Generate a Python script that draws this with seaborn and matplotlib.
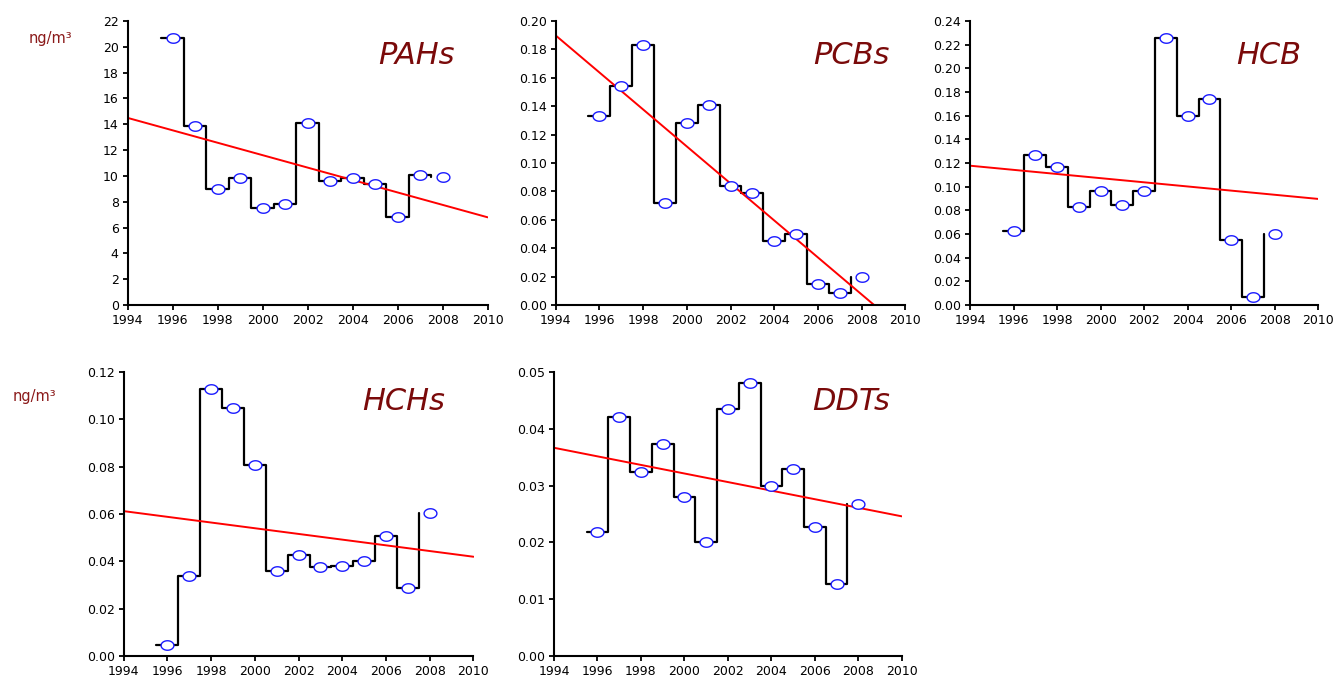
import numpy as np
import matplotlib
matplotlib.use("Agg")
import matplotlib.pyplot as plt
from matplotlib.path import Path
import seaborn as sns

# annual means, ng/m3
years = np.arange(1996, 2009)

pahs = [20.7, 13.9, 9.0, 9.8, 7.5, 7.8, 14.1, 9.6, 9.8, 9.35, 6.85, 10.05, 9.9]
pcbs = [0.133, 0.154, 0.183, 0.072, 0.128, 0.141, 0.084, 0.079, 0.045, 0.050, 0.015, 0.0085, 0.020]
hcb = [0.0625, 0.127, 0.117, 0.0825, 0.096, 0.0848, 0.096, 0.226, 0.160, 0.174, 0.0552, 0.0068, 0.060]
hchs = [0.0045, 0.0337, 0.113, 0.105, 0.0807, 0.0361, 0.0425, 0.0375, 0.038, 0.040, 0.0505, 0.0287, 0.0603]
ddts = [0.0218, 0.0420, 0.0324, 0.0374, 0.0280, 0.0200, 0.0435, 0.0480, 0.0299, 0.0330, 0.0227, 0.0127, 0.0267]

names = ["PAHs", "PCBs", "HCB", "HCHs", "DDTs"]
series = [pahs, pcbs, hcb, hchs, ddts]
ymax = [22, 0.20, 0.24, 0.12, 0.05]
ystep = [2, 0.02, 0.02, 0.02, 0.01]
yfmt = ["{:.0f}", "{:.2f}", "{:.2f}", "{:.2f}", "{:.2f}"]

W, H = 1338, 679
# axes boxes in pixels: left, right, top, bottom
boxes = [
    (127.7, 487.7, 21, 305),
    (555.7, 905.4, 21, 305),
    (970.0, 1318.3, 21, 305),
    (123.7, 473.5, 372, 656),
    (554.0, 901.8, 372, 656),
]
# title anchor (right edge, vertical centre) in pixels
title_pos = [(455, 56), (890, 56), (1301, 56), (445, 401), (890, 401)]

sns.set_style("white")
plt.rcParams["font.family"] = ["DejaVu Sans"]

# slightly flattened circle, as in the original
t = np.linspace(0, 2 * np.pi, 60)
ellipse = Path(np.column_stack([1.35 * np.cos(t), np.sin(t)]), closed=True)

fig = plt.figure(figsize=(W / 100, H / 100), dpi=100)

for i in range(5):
    l, r, top, b = boxes[i]
    ax = fig.add_axes([l / W, 1 - b / H, (r - l) / W, (b - top) / H])
    vals = np.array(series[i])

    ax.set_xlim(1994, 2010)
    ax.set_ylim(0, ymax[i])

    sns.lineplot(x=years - 0.5, y=vals, drawstyle="steps-post", color="black",
                 lw=1.6, estimator=None, ax=ax)
    sns.regplot(x=years, y=vals, scatter=False, ci=None, truncate=False,
                color="red", line_kws={"lw": 1.4}, ax=ax)
    sns.scatterplot(x=years, y=vals, marker=ellipse, s=85, color="white",
                    edgecolor="#1a1aff", linewidth=1.0, zorder=5, clip_on=False, ax=ax)

    ax.set_xlim(1994, 2010)
    ax.set_ylim(0, ymax[i])
    ax.set_xticks(np.arange(1994, 2011, 2))
    yt = np.arange(0, ymax[i] + ystep[i] / 2, ystep[i])
    ax.set_yticks(yt)
    ax.set_yticklabels([yfmt[i].format(v) for v in yt])
    ax.set_xlabel("")
    ax.set_ylabel("")

    sns.despine(ax=ax)
    for s in ["left", "bottom"]:
        ax.spines[s].set_linewidth(1.5)
        ax.spines[s].set_color("black")
    ax.tick_params(axis="both", direction="out", length=3.5, width=1.3,
                   labelsize=9, colors="black", pad=3,
                   left=True, bottom=True)

    tx, ty = title_pos[i]
    fig.text(tx / W, 1 - ty / H, names[i], ha="right", va="center",
             fontsize=22, style="italic", color="#7a0a0a")

fig.text(50 / W, 1 - 38 / H, "ng/m³", ha="center", va="center", fontsize=10.5, color="#8b1a1a")
fig.text(34 / W, 1 - 396 / H, "ng/m³", ha="center", va="center", fontsize=10.5, color="#8b1a1a")

fig.savefig("out.png", dpi=100)
